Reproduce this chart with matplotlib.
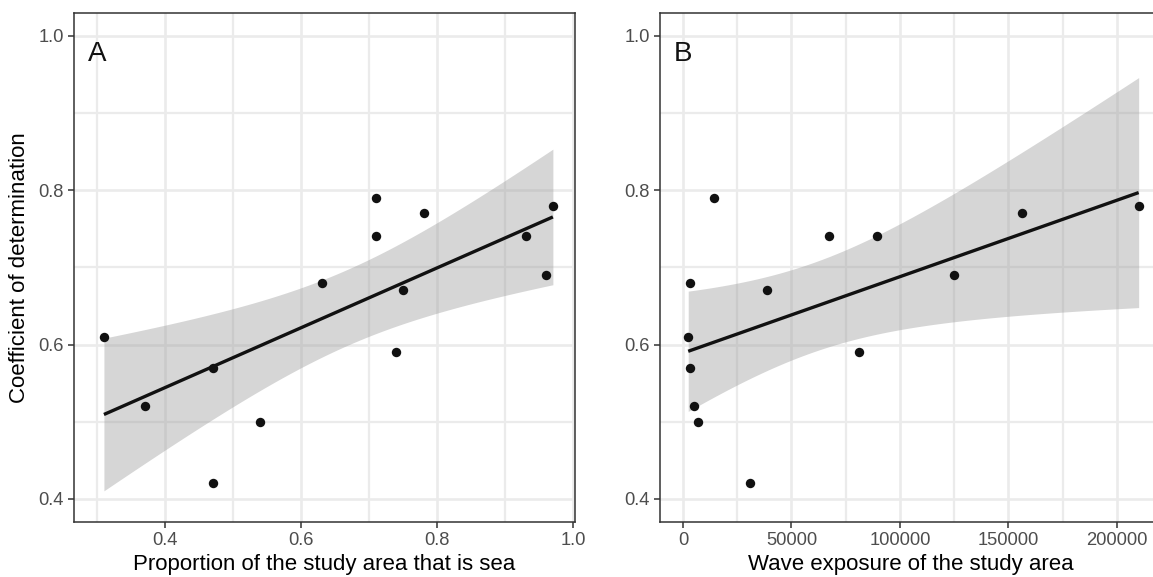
import numpy as np
import matplotlib
matplotlib.use("Agg")
import matplotlib.pyplot as plt
from matplotlib.ticker import MultipleLocator

plt.rcParams['font.family'] = ['Liberation Sans', 'DejaVu Sans']

# panel A: proportion of study area that is sea
sea_prop = [0.31, 0.37, 0.47, 0.47, 0.54, 0.63, 0.71, 0.71, 0.74, 0.75, 0.78, 0.93, 0.96, 0.97]
r2_sea = [0.61, 0.52, 0.57, 0.42, 0.50, 0.68, 0.79, 0.74, 0.59, 0.67, 0.77, 0.74, 0.69, 0.78]

# panel B: wave exposure
wave_exp = [2400, 3200, 3400, 5100, 7100, 14400, 30700, 38500, 67100, 81200, 89500, 125000, 156200, 210000]
r2_wave = [0.61, 0.68, 0.57, 0.52, 0.50, 0.79, 0.42, 0.67, 0.74, 0.59, 0.74, 0.69, 0.77, 0.78]

T975_DF12 = 2.178813  # t quantile for 95% CI, n-2 = 12 df


def lm_band(x, y, npts=80):
    x = np.asarray(x, float)
    y = np.asarray(y, float)
    n = len(x)
    b1, b0 = np.polyfit(x, y, 1)
    resid = y - (b0 + b1 * x)
    s2 = np.sum(resid**2) / (n - 2)
    xs = np.linspace(x.min(), x.max(), npts)
    fit = b0 + b1 * xs
    se = np.sqrt(s2 * (1.0 / n + (xs - x.mean())**2 / np.sum((x - x.mean())**2)))
    return xs, fit, fit - T975_DF12 * se, fit + T975_DF12 * se


def style_panel(ax):
    for s in ax.spines.values():
        s.set_color('#333333')
        s.set_linewidth(1.1)
    ax.set_facecolor('white')
    ax.grid(which='major', color='#EBEBEB', linewidth=1.9, zorder=0)
    ax.grid(which='minor', color='#EBEBEB', linewidth=1.6, zorder=0)
    ax.set_axisbelow(True)
    ax.tick_params(which='major', length=4, width=1.1, color='#333333',
                   labelcolor='#4D4D4D', labelsize=13.2, pad=3.5)
    ax.tick_params(which='minor', length=0)
    ax.set_ylim(0.370, 1.030)
    ax.yaxis.set_major_locator(MultipleLocator(0.2))
    ax.yaxis.set_minor_locator(MultipleLocator(0.1))
    ax.yaxis.set_major_formatter(matplotlib.ticker.FormatStrFormatter('%.1f'))


def draw(ax, x, y):
    xs, fit, lo, hi = lm_band(x, y)
    ax.fill_between(xs, lo, hi, color='#999999', alpha=0.4, linewidth=0, zorder=2)
    ax.plot(xs, fit, color='#111111', linewidth=2.4, zorder=3, solid_capstyle='butt')
    ax.scatter(x, y, s=46, color='#111111', linewidths=0, zorder=4)


fig = plt.figure(figsize=(11.53, 5.77), dpi=100)
W, H = 1153.0, 577.0
ax1 = fig.add_axes([74 / W, 55 / H, 501 / W, 509.3 / H])
ax2 = fig.add_axes([660 / W, 55 / H, 501 / W, 509.3 / H])

for ax in (ax1, ax2):
    style_panel(ax)

draw(ax1, sea_prop, r2_sea)
ax1.set_xlim(0.266, 1.0025)
ax1.xaxis.set_major_locator(MultipleLocator(0.2))
ax1.xaxis.set_minor_locator(MultipleLocator(0.1))
ax1.xaxis.set_major_formatter(matplotlib.ticker.FormatStrFormatter('%.1f'))
ax1.set_xlabel('Proportion of the study area that is sea', fontsize=16, color='black', labelpad=3)
ax1.set_ylabel('Coefficient of determination', fontsize=16, color='black', labelpad=6)
ax1.text(0.028, 0.945, 'A', transform=ax1.transAxes, fontsize=20, va='top', ha='left', color='#111111')

draw(ax2, wave_exp, r2_wave)
ax2.set_xlim(-10600, 220300)
ax2.xaxis.set_major_locator(MultipleLocator(50000))
ax2.xaxis.set_minor_locator(MultipleLocator(25000))
ax2.xaxis.set_major_formatter(matplotlib.ticker.FormatStrFormatter('%d'))
ax2.set_xlabel('Wave exposure of the study area', fontsize=16, color='black', labelpad=3)
ax2.text(0.028, 0.945, 'B', transform=ax2.transAxes, fontsize=20, va='top', ha='left', color='#111111')

fig.savefig('out.png', dpi=100)
